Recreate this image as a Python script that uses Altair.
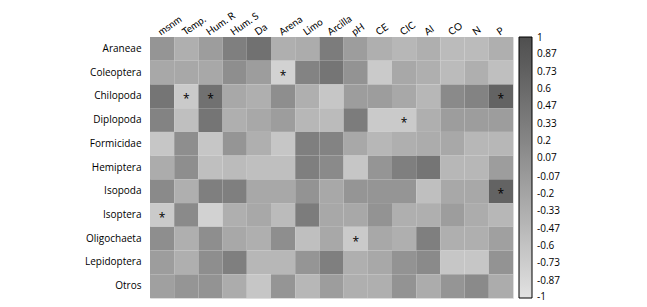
import altair as alt
import pandas as pd

taxa = ["Araneae", "Coleoptera", "Chilopoda", "Diplopoda", "Formicidae", "Hemiptera",
        "Isopoda", "Isoptera", "Oligochaeta", "Lepidoptera", "Otros"]
variables = ["msnm", "Temp.", "Hum. R", "Hum. S", "Da", "Arena", "Limo", "Arcilla",
             "pH", "CE", "CIC", "Al", "CO", "N", "P"]

araneae     = [0.0, -0.35, -0.1, 0.3, 0.5, -0.35, -0.3, 0.35, -0.1, -0.35, -0.45, -0.35, -0.5, -0.5, -0.35]
coleoptera  = [-0.25, -0.25, -0.25, 0.1, -0.1, -0.8, 0.25, 0.45, 0.03, -0.7, -0.25, -0.35, -0.5, -0.35, -0.55]
chilopoda   = [0.45, -0.7, 0.5, -0.25, -0.35, 0.1, -0.35, -0.65, -0.1, -0.1, -0.25, -0.45, 0.15, 0.25, 0.7]
diplopoda   = [0.25, -0.55, 0.45, -0.35, -0.25, -0.1, -0.45, -0.5, 0.35, -0.7, -0.7, -0.35, -0.1, -0.1, -0.1]
formicidae  = [-0.65, 0.1, -0.65, 0.0, -0.35, -0.65, 0.3, 0.25, -0.25, -0.45, -0.35, -0.3, -0.25, -0.45, -0.45]
hemiptera   = [-0.3, 0.1, -0.55, -0.5, -0.55, -0.55, 0.3, 0.15, -0.65, 0.0, 0.3, 0.45, -0.45, -0.45, -0.1]
isopoda     = [0.15, -0.35, 0.3, 0.3, -0.25, -0.25, 0.03, -0.25, 0.0, 0.0, 0.0, -0.55, -0.25, -0.25, 0.7]
isoptera    = [-0.7, 0.15, -0.8, -0.35, -0.25, -0.5, 0.35, -0.25, -0.25, 0.03, -0.35, -0.35, -0.1, -0.3, -0.45]
oligochaeta = [0.1, -0.35, 0.1, -0.25, -0.35, 0.1, -0.55, -0.25, -0.7, -0.25, -0.35, 0.3, -0.35, -0.35, -0.15]
lepidoptera = [-0.1, -0.35, 0.1, 0.3, -0.45, -0.45, 0.0, 0.3, -0.35, -0.25, 0.03, 0.15, -0.65, -0.65, 0.03]
otros       = [-0.15, 0.0, 0.03, -0.3, -0.65, 0.0, -0.45, -0.1, -0.35, -0.35, 0.03, -0.3, 0.0, 0.15, -0.3]

matrix = [araneae, coleoptera, chilopoda, diplopoda, formicidae, hemiptera,
          isopoda, isoptera, oligochaeta, lepidoptera, otros]

# significant cells (taxon, variable)
significant = [("Coleoptera", "Arena"), ("Chilopoda", "Temp."), ("Chilopoda", "Hum. R"),
               ("Chilopoda", "P"), ("Diplopoda", "CIC"), ("Isopoda", "P"),
               ("Isoptera", "msnm"), ("Oligochaeta", "pH")]

# colour-bar labels (end values nudged inward so they are centred like the others)
legend_values = [0.995, 0.87, 0.73, 0.6, 0.47, 0.33, 0.2, 0.07, -0.07, -0.2, -0.33,
                 -0.47, -0.6, -0.73, -0.87, -0.995]

rows = []
for t, vals in zip(taxa, matrix):
    for v, val in zip(variables, vals):
        rows.append({"taxon": t, "var": v, "r": val})
df = pd.DataFrame(rows)
sig_df = pd.DataFrame([{"taxon": t, "var": v, "mark": "*"} for t, v in significant])

FONT = "Open Sans"
XFONT = "Lato"

x_enc = alt.X("var:N", sort=variables, title=None,
              axis=alt.Axis(orient="top", labelAngle=-35, domain=False, ticks=False,
                            labelPadding=0, labelFontSize=10, labelFont=XFONT,
                            labelColor="black", labelLimit=200),
              scale=alt.Scale(paddingInner=0, paddingOuter=0))
y_enc = alt.Y("taxon:N", sort=taxa, title=None,
              axis=alt.Axis(domain=False, ticks=False, labelPadding=9,
                            labelFontSize=10, labelFont=FONT, labelColor="black"),
              scale=alt.Scale(paddingInner=0, paddingOuter=0))

label_expr = ("datum.value > 0.99 ? '1' : datum.value < -0.99 ? '-1' : "
              "replace(format(datum.value, '.2~f'), '\u2212', '-')")

heat = alt.Chart(df).mark_rect().encode(
    x=x_enc,
    y=y_enc,
    color=alt.Color("r:Q",
                    scale=alt.Scale(domain=[-1, 1], range=["#e2e2e2", "#4f4f4f"]),
                    legend=alt.Legend(title=None, values=legend_values,
                                      labelExpr=label_expr,
                                      gradientLength=261, gradientThickness=13,
                                      gradientStrokeColor="black", gradientStrokeWidth=1,
                                      labelFontSize=10, labelFont=FONT, labelColor="black",
                                      labelOverlap=False, offset=6, labelOffset=5)),
)

stars = alt.Chart(sig_df).mark_text(fontSize=12, color="black", dy=3, font=FONT).encode(
    x=alt.X("var:N", sort=variables),
    y=alt.Y("taxon:N", sort=taxa),
    text="mark:N",
)

chart = alt.layer(heat, stars).properties(
    width=363, height=261,
    autosize=alt.AutoSizeParams(type="none"),
    padding={"left": 142, "top": 29, "right": 120, "bottom": 8},
).configure_view(stroke=None).configure(background="white")

chart.save("out.html", embed_options={"renderer": "svg", "actions": False})
